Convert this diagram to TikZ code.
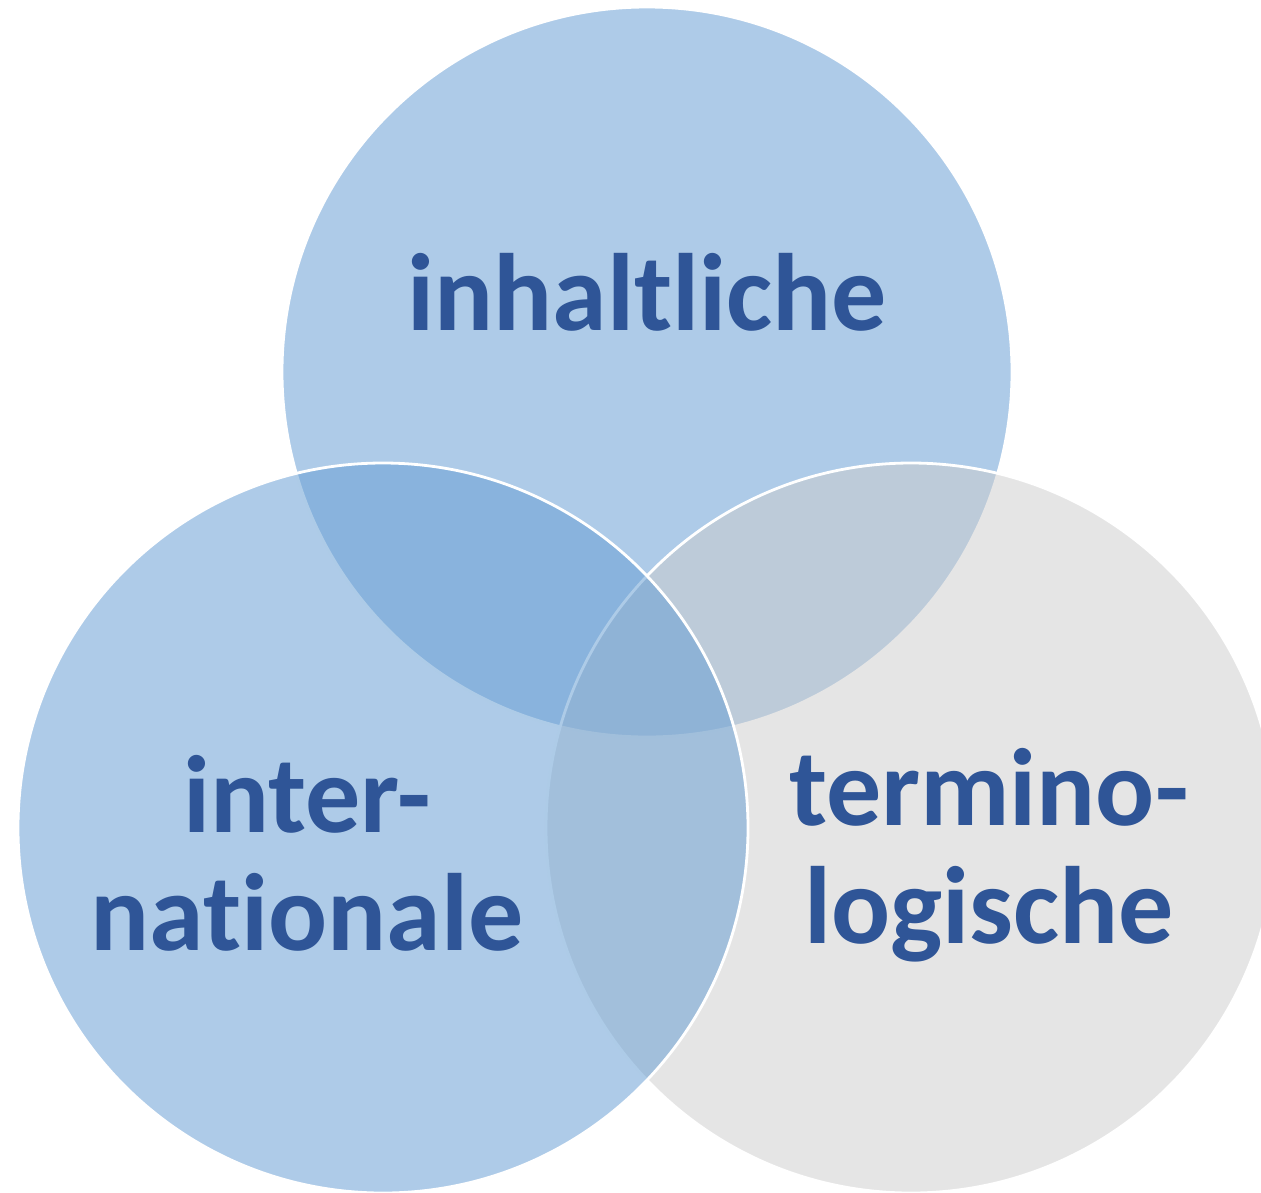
\documentclass[tikz,border=0pt]{standalone}
\usepackage{fontspec}
\setmainfont{Carlito}[Ligatures={NoCommon,NoRequired,NoContextual}]
\usepackage{tikz}
\usetikzlibrary{positioning}
\definecolor{vennblue}{RGB}{105,159,212}
\definecolor{venngray}{RGB}{204,204,204}
\definecolor{labelblue}{RGB}{47,85,151}

\begin{document}
\begin{tikzpicture}[
  x=1pt, y=-1pt,
  ring/.style={circle, draw=white, line width=2.8pt, minimum size=730pt,
    inner sep=0pt, fill opacity=0.54},
  lbl/.style={font=\fontsize{110}{118}\selectfont\bfseries, text=labelblue,
    align=center, inner sep=0pt}
]
  \useasboundingbox (0,0) rectangle (1261,1192);
  \node[ring, fill=vennblue] (top) at (647,372) {};
  \node[ring, fill=venngray, fill opacity=0.5] (right) at (911,828) {};
  \node[ring, fill=vennblue] (left) at (383,828) {};
  \node[lbl, anchor=base] (inh) at (647,330) {inhaltliche};
  \node[lbl] (int) at (307,853) {inter-\\nationale};
  \node[lbl] (ter) at (989,855) {termino-\\logische};
\end{tikzpicture}
\end{document}
